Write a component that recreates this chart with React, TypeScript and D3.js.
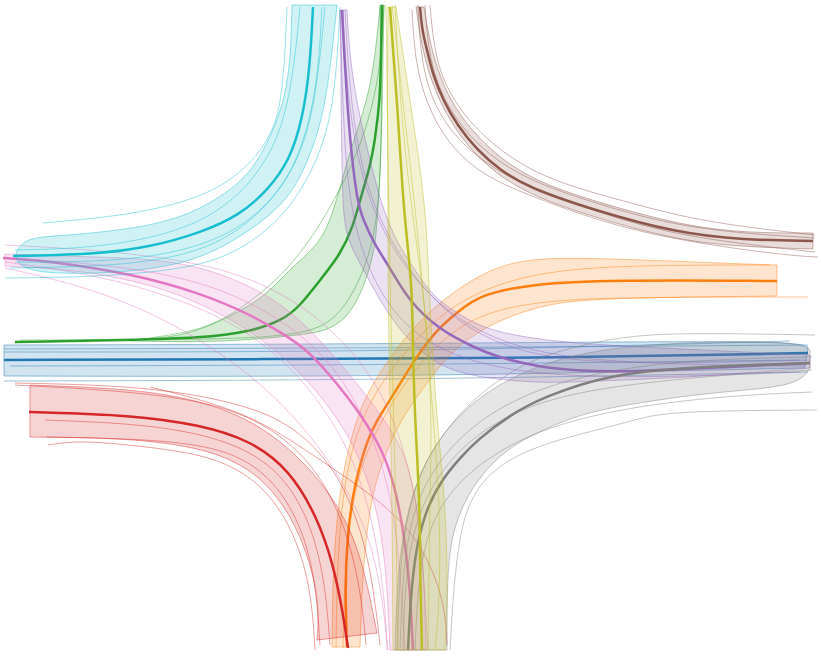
import React from "react"
import * as d3 from "d3"

type Pt = [number, number]

// Trajectories in metres, origin at the centre of the junction (y up).
// Each manoeuvre: mean path, band edges, sampled runs.

const blueMean: Pt[] = [[-40.6, -0.5], [-11, -0.4], [15, -0.3], [39.8, 0.2]]
const blueUpper: Pt[] = [[-40.6, 1.0], [-1, 1.1], [38, 1.5], [39.8, 0.8]]
const blueLower: Pt[] = [[-40.6, -2.1], [-1, -2.2], [39.5, -1.3]]
const blueRuns: Pt[][] = [
  [[-40.6, 0.6], [-1, 0.7], [39.8, 1.0]],
  [[-40.6, -2.6], [-1, -2.5], [39.8, -1.7]],
  [[-40.6, 0.3], [-1, 0.3], [38, 1.4]],
  [[-40, -1.1], [-1, -1.0], [39, -0.5]],
]

const orangeMean: Pt[] = [[-6.3, -29.2], [-6.5, -23.5], [-6.3, -18.5], [-5.7, -13.5], [-4.3, -8.5], [-3.3, -6.5], [-1.8, -4.2], [0, -1.2], [2.3, 2.2], [5.0, 4.5], [7.0, 6.0], [12.0, 7.1], [20.0, 7.5], [36.7, 7.4]]
const orangeUpper: Pt[] = [[-7.8, -29.2], [-7.7, -20.5], [-7.0, -13.5], [-6.2, -9.5], [-5.0, -5.2], [-3.3, -2.2], [-1.0, 1.2], [2.3, 4.8], [5.7, 7.2], [8.0, 8.5], [11.7, 9.7], [19.0, 9.7], [33.3, 9.1], [36.7, 9.0]]
const orangeLower: Pt[] = [[-5.0, -29.2], [-4.8, -22.5], [-4.0, -14.5], [-2.7, -10.5], [-1.0, -6.5], [1.7, -2.8], [4.0, 0.2], [7.3, 2.8], [13.3, 5.2], [20.0, 5.7], [36.7, 5.9]]
const orangeRuns: Pt[][] = [
  [[-6.7, -29.3], [-6.5, -20.5], [-5.5, -12.5], [-3.0, -6.5], [1.0, -0.5], [6.0, 4.0], [13.3, 5.5], [23.0, 5.8], [39.8, 5.8]],
  [[-7.4, -29.3], [-7.3, -21.5], [-6.8, -14.5], [-5.8, -9.0], [-3.8, -4.0], [0, 1.0], [4.5, 5.5], [13.0, 8.7], [27.0, 9.0], [36.0, 9.0]],
]

const greenMean: Pt[] = [[-2.8, 35.0], [-2.9, 29.5], [-3.0, 25.5], [-3.5, 21.5], [-4.0, 18.8], [-5.0, 15.5], [-5.7, 12.8], [-7.0, 10.0], [-9.0, 7.5], [-11.0, 4.9], [-12.7, 3.5], [-16.0, 2.3], [-21.0, 1.7], [-28.0, 1.5], [-39.5, 1.3]]
const greenUpper: Pt[] = [[-3.0, 35.0], [-3.4, 30.5], [-4.2, 25.5], [-6.0, 20.5], [-7.3, 15.5], [-8.7, 11.5], [-11.0, 9.5], [-13.0, 7.5], [-15.0, 5.5], [-19.0, 3.3], [-23.0, 1.8], [-28.0, 1.5]]
const greenLower: Pt[] = [[-2.6, 35.0], [-2.7, 29.5], [-2.8, 23.5], [-3.0, 17.5], [-3.3, 13.5], [-3.5, 10.2], [-5.3, 4.8], [-7.7, 2.5], [-11.0, 2.0], [-16.0, 1.5], [-21.0, 1.3], [-28.0, 1.4]]
const greenRuns: Pt[][] = [
  [[-2.6, 35.0], [-3.0, 27.5], [-5.0, 20.5], [-8.0, 14.5], [-12.0, 8.5], [-17.0, 4.5], [-20.7, 2.5], [-26.0, 1.7]],
  [[-3.0, 35.0], [-2.8, 25.5], [-3.0, 15.5], [-4.0, 9.5], [-7.0, 3.5], [-11.0, 1.9], [-21.0, 1.5], [-39.0, 1.5]],
]

const redMean: Pt[] = [[-38.1, -5.7], [-27.7, -6.0], [-21.0, -7.0], [-16.0, -8.5], [-12.0, -11.5], [-9.3, -16.2], [-7.7, -20.8], [-6.7, -25.8], [-6.2, -29.3]]
const redUpper: Pt[] = [[-38.0, -3.0], [-24.3, -3.5], [-16.0, -6.2], [-11.0, -10.2], [-7.7, -14.2], [-5.0, -19.2], [-3.3, -27.8]]
const redLower: Pt[] = [[-38.0, -8.2], [-27.7, -8.3], [-19.3, -9.5], [-14.3, -12.5], [-11.0, -17.5], [-9.0, -24.2], [-9.3, -28.5]]
const redRuns: Pt[][] = [
  [[-39.5, -2.8], [-26.0, -3.1], [-16.0, -5.0], [-11.0, -7.5], [-7.0, -12.0], [-4.5, -18.5], [-3.5, -24.5], [-3.0, -29.0]],
  [[-36.5, -6.5], [-26.0, -6.9], [-18.0, -8.5], [-13.0, -11.5], [-10.0, -16.5], [-8.5, -22.5], [-8.0, -29.0]],
  [[-36.3, -8.2], [-21.0, -8.5], [-15.0, -11.0], [-11.5, -15.5], [-9.5, -21.5], [-9.0, -29.0]],
  [[-36.2, -9.0], [-33.0, -8.5], [-26.0, -9.2], [-19.0, -10.2], [-14.0, -13.5], [-11.0, -19.0], [-9.8, -24.5], [-9.5, -29.5]],
  [[-26.0, -3.2], [-16.0, -5.7], [-9.0, -10.5], [-3.0, -14.5], [1.0, -18.5], [3.5, -24.5], [3.7, -29.0]],
  [[-39.5, -3.0], [-21.0, -4.0], [-13.0, -7.5], [-8.5, -12.5], [-6.0, -18.5], [-4.8, -24.5], [-4.4, -29.0]],
]

const purpleMean: Pt[] = [[-6.8, 34.5], [-6.6, 30.5], [-6.3, 25.5], [-5.9, 20.5], [-5.3, 15.5], [-4.7, 13.5], [-3.5, 11.0], [-2.3, 9.2], [0, 5.2], [3.0, 2.5], [6.3, 0.8], [9.0, -0.3], [13.0, -1.2], [17.0, -1.6], [21.7, -1.7], [31.7, -1.2], [40.0, -0.8]]
const purpleUpper: Pt[] = [[-6.3, 34.5], [-6.0, 29.5], [-5.2, 24.5], [-4.0, 19.5], [-3.0, 15.5], [-1.5, 11.5], [0.5, 8.5], [2.3, 5.8], [5.0, 4.0], [7.7, 2.5], [13.0, 1.5], [19.0, 1.0], [29.0, 0.5], [40.0, 0]]
const purpleLower: Pt[] = [[-7.0, 34.5], [-6.9, 29.5], [-6.9, 24.5], [-6.8, 19.5], [-6.7, 13.5], [-6.0, 11.0], [-5.0, 9.2], [-2.7, 4.8], [0, 1.2], [3.0, -1.2], [7.0, -2.3], [13.0, -2.8], [16.7, -2.7], [29.0, -2.2], [40.0, -1.3]]
const purpleRuns: Pt[][] = [
  [[-6.5, 34.5], [-6.0, 25.5], [-4.5, 16.5], [-1.0, 9.5], [4.0, 3.5], [11.0, 0], [21.0, -1.0], [40.0, -0.5]],
  [[-7.0, 34.5], [-6.7, 23.5], [-6.0, 13.5], [-3.0, 5.5], [2.0, 0.5], [11.0, -2.0], [24.0, -2.3], [39.0, -1.7]],
  [[-6.7, 34.5], [-6.4, 27.5], [-5.2, 18.5], [-2.5, 11.5], [2.0, 5.5], [8.0, 1.5], [16.0, -0.5], [29.0, -1.0], [39.5, -1.1]],
]

const brownMean: Pt[] = [[1.0, 34.8], [1.2, 32.5], [1.7, 30.5], [2.3, 28.0], [3.3, 25.5], [4.7, 23.0], [6.7, 20.5], [9.0, 18.5], [11.7, 16.8], [18.3, 14.5], [26.7, 12.2], [33.3, 11.5], [40.3, 11.4]]
const brownUpper: Pt[] = [[1.4, 34.8], [2.1, 30.5], [3.8, 25.5], [7.3, 21.0], [12.0, 17.5], [19.0, 15.2], [27.0, 13.0], [33.5, 12.2], [40.3, 12.2]]
const brownLower: Pt[] = [[0.6, 34.8], [1.2, 30.5], [2.7, 25.5], [6.0, 20.2], [11.0, 16.3], [18.0, 13.9], [26.5, 11.5], [33.3, 10.8], [40.3, 10.6]]
const brownRuns: Pt[][] = [
  [[0.2, 34.5], [0.5, 29.5], [1.5, 25.5], [3.5, 21.5], [7.0, 18.0], [13.0, 15.5], [23.0, 12.0], [37.0, 10.0], [40.8, 9.8]],
  [[2.0, 35.0], [2.5, 29.5], [4.2, 25.5], [7.5, 21.5], [13.0, 17.7], [21.0, 15.5], [29.0, 13.3], [40.5, 12.0]],
  [[0.8, 35.0], [1.0, 30.5], [2.0, 25.5], [5.0, 21.0], [10.0, 17.5], [17.0, 14.9], [25.0, 12.3], [34.0, 11.0], [40.5, 10.3]],
  [[1.5, 35.0], [1.8, 30.5], [3.0, 26.0], [6.0, 21.5], [11.0, 17.7], [19.0, 15.0], [28.0, 12.5], [40.5, 11.7]],
]

const pinkMean: Pt[] = [[-40.7, 9.7], [-36.0, 9.4], [-27.7, 8.1], [-21.0, 6.2], [-16.0, 4.1], [-12.0, 1.7], [-10.0, 0.3], [-6.3, -4.0], [-3.0, -8.8], [-1.5, -13.0], [-0.5, -18.5], [0, -23.5], [0.3, -29.5]]
const pinkUpper: Pt[] = [[-40.5, 10.1], [-31.0, 9.8], [-23.0, 9.5], [-16.3, 7.2], [-12.0, 4.5], [-8.7, 1.2], [-5.3, -2.8], [-2.3, -6.8], [-0.3, -10.2], [0.8, -15.5], [1.4, -21.5], [1.6, -29.5]]
const pinkLower: Pt[] = [[-40.5, 8.9], [-33.0, 8.5], [-26.0, 7.1], [-21.0, 5.2], [-16.0, 2.5], [-12.0, -0.7], [-8.5, -4.5], [-5.5, -9.0], [-3.5, -14.5], [-2.4, -20.5], [-2.0, -29.5]]
const pinkRuns: Pt[][] = [
  [[-40.5, 11.0], [-31.0, 10.5], [-21.0, 9.3], [-14.0, 7.0], [-8.0, 3.0], [-3.0, -3.0], [-0.5, -9.5], [1.0, -16.5], [1.5, -24.5], [1.8, -29.5]],
  [[-40.5, 9.3], [-31.0, 8.0], [-21.0, 5.0], [-14.0, 1.0], [-9.0, -4.5], [-5.5, -10.5], [-3.5, -17.5], [-2.5, -24.5], [-2.3, -29.5]],
  [[-40.5, 8.7], [-33.0, 7.0], [-25.0, 4.0], [-17.0, -1.0], [-11.0, -6.5], [-6.0, -13.5], [-3.2, -20.5], [-2.2, -29.5]],
  [[-40.5, 9.7], [-29.0, 9.0], [-19.0, 7.0], [-11.0, 2.5], [-6.5, -2.5], [-3.5, -8.5], [-1.5, -15.5], [-0.8, -24.5], [-0.5, -29.5]],
]

const grayMean: Pt[] = [[-0.2, -29.5], [0, -25.5], [0.3, -21.8], [0.8, -18.5], [1.7, -15.2], [3.3, -12.3], [5.0, -10.3], [6.7, -8.5], [10.0, -6.0], [13.3, -4.2], [20.0, -1.9], [28.3, -1.2], [40.0, -0.8]]
const grayUpper: Pt[] = [[-1.5, -29.5], [-1.3, -22.5], [-0.5, -16.5], [1.0, -11.5], [3.5, -7.5], [6.5, -4.5], [10.0, -2.3], [15.0, -0.2], [23.3, 1.2], [38.3, 1.5], [40.0, 0.5]]
const grayLower: Pt[] = [[3.7, -29.5], [3.7, -24.5], [3.9, -19.2], [5.0, -15.5], [6.7, -12.5], [9.0, -10.0], [11.7, -8.2], [16.0, -6.3], [20.0, -5.2], [30.0, -3.7], [38.7, -3.2], [40.0, -1.3]]
const grayRuns: Pt[][] = [
  [[4.0, -29.5], [4.3, -24.2], [4.8, -19.2], [5.7, -14.8], [8.3, -11.2], [13.3, -8.8], [20.0, -7.2], [23.0, -6.3], [26.7, -5.6], [40.7, -5.5]],
  [[-1.3, -29.5], [-1.0, -20.5], [0, -14.5], [2.0, -9.5], [6.0, -4.5], [11.0, -1.0], [15.0, 0.5], [21.7, 2.0], [29.0, 2.2], [40.5, 2.0]],
  [[-0.7, -29.5], [-0.5, -22.5], [0.5, -16.5], [3.0, -11.5], [7.0, -7.5], [13.0, -4.5], [21.0, -3.0], [31.0, -2.0], [40.2, -1.5]],
  [[0.5, -29.5], [0.8, -22.5], [1.8, -17.5], [4.0, -13.5], [8.0, -10.0], [14.0, -7.0], [23.0, -5.0], [33.0, -4.0], [40.2, -3.7]],
  [[-1.0, -29.5], [-0.8, -23.5], [-0.2, -17.5], [1.5, -12.5], [5.0, -8.0], [10.0, -4.5], [17.0, -2.0], [27.0, -0.5], [40.2, -0.2]],
]

const oliveMean: Pt[] = [[-2.0, 34.8], [-1.7, 30.5], [-1.3, 25.5], [-0.7, 15.5], [-0.3, 11.5], [0.2, 6.8], [0.3, 0.2], [0.5, -6.5], [1.0, -15.2], [1.0, -21.8], [1.2, -29.5]]
const oliveUpper: Pt[] = [[-2.2, 34.8], [-2.3, 25.5], [-2.2, 15.5], [-2.2, 5.5], [-2.0, -4.5], [-1.8, -14.5], [-1.7, -29.5]]
const oliveLower: Pt[] = [[-1.4, 34.8], [0, 25.5], [1.5, 15.5], [1.8, 9.5], [2.2, 0.5], [2.8, -7.5], [3.5, -14.5], [3.8, -22.5], [3.5, -29.5]]
const oliveRuns: Pt[][] = [
  [[-1.5, 35.0], [-1.0, 25.5], [0, 15.5], [1.5, 5.5], [2.2, -4.5], [2.0, -14.5], [1.8, -29.5]],
  [[-2.4, 35.0], [-2.2, 20.5], [-2.0, 5.5], [-1.5, -9.5], [-1.2, -29.5]],
  [[-1.8, 35.0], [-0.5, 23.5], [1.0, 10.5], [2.0, -2.5], [3.0, -14.5], [3.0, -24.5], [2.5, -29.5]],
]

const cyanMean: Pt[] = [[-39.7, 9.9], [-31.0, 10.1], [-26.0, 10.8], [-21.0, 12.2], [-17.0, 14.0], [-14.2, 16.5], [-12.0, 19.5], [-10.7, 23.8], [-10.0, 28.8], [-9.7, 34.8]]
const cyanUpper: Pt[] = [[-39.5, 9.9], [-38.7, 11.8], [-34.3, 11.9], [-24.3, 13.0], [-19.3, 15.5], [-16.0, 18.0], [-13.7, 22.2], [-12.0, 27.2], [-11.8, 35.0]]
const cyanLower: Pt[] = [[-39.5, 9.9], [-38.5, 8.0], [-27.7, 8.2], [-21.0, 9.5], [-16.3, 12.2], [-12.0, 15.5], [-9.7, 20.5], [-8.3, 25.5], [-7.3, 35.0]]
const cyanRuns: Pt[][] = [
  [[-36.7, 13.2], [-27.7, 14.0], [-21.0, 15.7], [-17.0, 18.0], [-14.0, 21.5], [-12.7, 25.5], [-12.3, 34.8]],
  [[-40.5, 7.7], [-31.0, 7.8], [-21.0, 8.7], [-16.0, 11.0], [-12.0, 14.5], [-9.0, 19.8], [-7.5, 25.5], [-7.0, 34.8]],
  [[-39.5, 10.5], [-31.0, 10.7], [-23.0, 12.3], [-18.0, 15.0], [-14.5, 19.0], [-12.5, 23.5], [-11.5, 29.5], [-11.0, 34.8]],
  [[-39.5, 9.3], [-29.0, 9.3], [-21.0, 10.7], [-16.0, 13.3], [-12.5, 17.0], [-10.5, 21.5], [-9.2, 27.5], [-8.8, 34.8]],
  [[-40.0, 8.7], [-28.0, 8.9], [-20.0, 10.5], [-15.0, 14.0], [-11.5, 18.5], [-9.5, 24.5], [-8.5, 34.8]],
]

const groups = [
  { mean: blueMean, upper: blueUpper, lower: blueLower, runs: blueRuns },
  { mean: orangeMean, upper: orangeUpper, lower: orangeLower, runs: orangeRuns },
  { mean: greenMean, upper: greenUpper, lower: greenLower, runs: greenRuns },
  { mean: redMean, upper: redUpper, lower: redLower, runs: redRuns },
  { mean: purpleMean, upper: purpleUpper, lower: purpleLower, runs: purpleRuns },
  { mean: brownMean, upper: brownUpper, lower: brownLower, runs: brownRuns },
  { mean: pinkMean, upper: pinkUpper, lower: pinkLower, runs: pinkRuns },
  { mean: grayMean, upper: grayUpper, lower: grayLower, runs: grayRuns },
  { mean: oliveMean, upper: oliveUpper, lower: oliveLower, runs: oliveRuns },
  { mean: cyanMean, upper: cyanUpper, lower: cyanLower, runs: cyanRuns },
]

const WIDTH = 821
const HEIGHT = 660

export default function App() {
  const x = d3.scaleLinear().domain([-41, 41.1]).range([0, WIDTH])
  const y = d3.scaleLinear().domain([35.5, -30.5]).range([0, HEIGHT])
  const colors = d3.schemeCategory10

  const line = d3
    .line<Pt>()
    .x((d) => x(d[0]))
    .y((d) => y(d[1]))
    .curve(d3.curveBasis)

  // band = one edge, then the other edge walked backwards
  const band = (a: Pt[], b: Pt[]) => {
    const first = line(a) ?? ""
    const back = (line([...b].reverse()) ?? "").replace(/^M/, "L")
    return `${first}${back}Z`
  }

  return (
    <svg
      width={WIDTH}
      height={HEIGHT}
      style={{ position: "absolute", left: 0, top: 0, background: "#fff" }}
    >
      {groups.map((g, i) => (
        <g key={i}>
          <path
            d={band(g.upper, g.lower)}
            fill={colors[i]}
            fillOpacity={0.2}
            stroke={colors[i]}
            strokeOpacity={0.45}
            strokeWidth={1}
          />
          {g.runs.map((r, j) => (
            <path
              key={j}
              d={line(r) ?? ""}
              fill="none"
              stroke={colors[i]}
              strokeOpacity={0.45}
              strokeWidth={1}
            />
          ))}
          <path
            d={line(g.mean) ?? ""}
            fill="none"
            stroke={colors[i]}
            strokeWidth={2.5}
          />
        </g>
      ))}
    </svg>
  )
}
